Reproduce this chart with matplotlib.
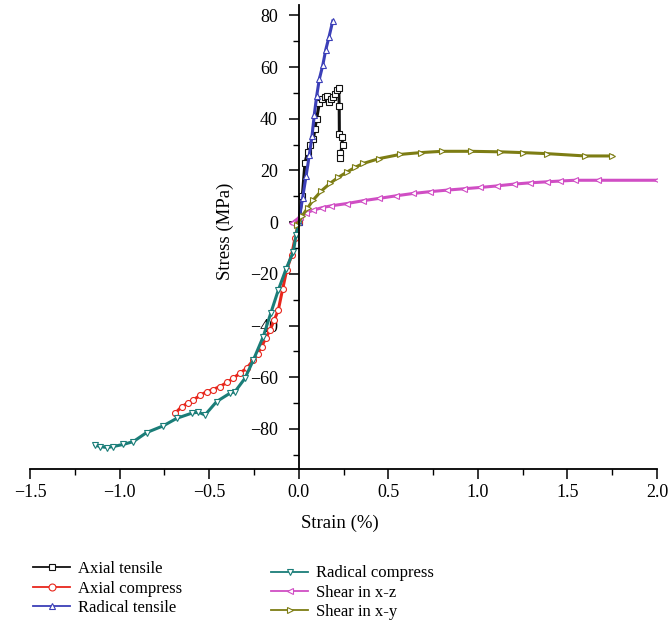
import matplotlib
matplotlib.use("Agg")
import matplotlib.pyplot as plt
from matplotlib.ticker import MultipleLocator, FuncFormatter

plt.rcParams['font.family'] = ['Liberation Serif', 'DejaVu Serif']

# ---- data (strain %, stress MPa) ----
axial_tensile_x = [0, 0.02, 0.035, 0.05, 0.065, 0.082, 0.09, 0.10, 0.115, 0.13, 0.145,
                   0.156, 0.17, 0.182, 0.193, 0.205, 0.212, 0.223, 0.226, 0.227, 0.24, 0.245, 0.232, 0.23]
axial_tensile_y = [0, 10, 23, 27, 30, 32, 36, 40, 46, 47.8, 48.5,
                   48.7, 46.4, 47.5, 48.4, 49.5, 51, 52, 45, 34, 33, 30, 26.6, 25]

axial_compress_x = [0, -0.02, -0.04, -0.067, -0.09, -0.114, -0.137, -0.16, -0.185, -0.207, -0.23,
                    -0.253, -0.29, -0.33, -0.365, -0.40, -0.44, -0.48, -0.514, -0.55, -0.589, -0.62,
                    -0.653, -0.69]
axial_compress_y = [0, -6, -12.8, -18.5, -26, -34, -38, -41.7, -45, -48.2, -51,
                    -53.3, -56.5, -58.5, -60.4, -62, -63.6, -64.8, -65.6, -67, -68.8, -70,
                    -71.4, -73.9]

radical_tensile_x = [0, 0.022, 0.041, 0.059, 0.074, 0.087, 0.10, 0.115, 0.134, 0.151, 0.169, 0.19]
radical_tensile_y = [0, 9.5, 17.8, 25.9, 33.2, 41.6, 48.7, 55.3, 60.6, 66.7, 71.6, 77.8]

radical_compress_x = [0, -0.015, -0.03, -0.07, -0.114, -0.155, -0.198, -0.253, -0.30, -0.356, -0.384,
                      -0.458, -0.523, -0.56, -0.597, -0.681, -0.756, -0.849, -0.923, -0.98, -1.035,
                      -1.07, -1.11, -1.137]
radical_compress_y = [0, -5, -11.5, -18, -26.3, -35, -44.3, -53.3, -60.4, -65.6, -66.2,
                      -69.4, -74.6, -73.5, -73.9, -75.9, -78.8, -81.4, -84.9, -86, -86.8,
                      -87.2, -86.8, -86.2]

shear_xz_x = [-0.04, 0.007, 0.04, 0.08, 0.13, 0.18, 0.27, 0.36, 0.45, 0.545, 0.64, 0.735, 0.83,
              0.92, 1.01, 1.105, 1.2, 1.29, 1.385, 1.46, 1.54, 1.67, 2.0]
shear_xz_y = [-0.5, 2, 3.5, 4.6, 5.6, 6.3, 7.2, 8.3, 9.2, 10.2, 11.1, 11.8, 12.4,
              12.9, 13.4, 14.0, 14.7, 15.2, 15.6, 15.9, 16.2, 16.2, 16.2]

shear_xy_x = [-0.01, 0.02, 0.05, 0.08, 0.125, 0.175, 0.22, 0.27, 0.315, 0.36, 0.45, 0.566, 0.68,
              0.80, 0.96, 1.124, 1.25, 1.385, 1.6, 1.75]
shear_xy_y = [-1.2, 2.5, 5.5, 8.5, 12, 15, 17.3, 19.4, 21.2, 22.7, 24.6, 26.2, 26.9,
              27.4, 27.4, 27.2, 26.9, 26.5, 25.6, 25.6]

series = [
    ("Axial tensile", axial_tensile_x, axial_tensile_y, "#111111", "s"),
    ("Axial compress", axial_compress_x, axial_compress_y, "#e8261c", "o"),
    ("Radical tensile", radical_tensile_x, radical_tensile_y, "#3b3fb8", "^"),
    ("Radical compress", radical_compress_x, radical_compress_y, "#1a7d78", "v"),
    ("Shear in x-z", shear_xz_x, shear_xz_y, "#d04ec4", "<"),
    ("Shear in x-y", shear_xy_x, shear_xy_y, "#7d7d14", ">"),
]

fig = plt.figure(figsize=(6.70, 6.27), dpi=100)
ax = fig.add_axes([30 / 670, 1 - 469 / 627, 627 / 670, 464 / 627])

handles = []
for name, xs, ys, col, mk in series:
    h, = ax.plot(xs, ys, color=col, lw=2.2, marker=mk, ms=4.3, mfc="white",
                 mec=col, mew=0.8, label=name)
    handles.append(h)

ax.set_xlim(-1.5, 2.0)
ax.set_ylim(-95.5, 84)

ax.spines['left'].set_position(('data', 0))
ax.spines['bottom'].set_position(('data', -95.5))
ax.spines['top'].set_visible(False)
ax.spines['right'].set_visible(False)
ax.spines['left'].set_linewidth(1.3)
ax.spines['bottom'].set_linewidth(1.3)

ax.xaxis.set_major_locator(MultipleLocator(0.5))
ax.xaxis.set_minor_locator(MultipleLocator(0.25))
ax.xaxis.set_major_formatter(FuncFormatter(lambda v, p: ("%.1f" % v).replace("-", "\u2212")))
ax.yaxis.set_major_locator(MultipleLocator(20))
ax.yaxis.set_minor_locator(MultipleLocator(10))
ax.tick_params(which='major', length=7, width=1.1, labelsize=13, direction='out')
ax.tick_params(which='minor', length=4, width=1.0, direction='out')
ax.tick_params(axis='y', pad=8)

ax.text(-0.41, -3.5, "Stress (MPa)", rotation=90, ha='center', va='center', fontsize=13.5)
fig.text(340 / 670, 1 - 523 / 627, "Strain (%)", ha='center', va='center', fontsize=13.5)

leg1 = fig.legend(handles[:3], [s[0] for s in series[:3]], loc='upper left',
                  bbox_to_anchor=(25 / 670, 1 - 553 / 627), frameon=False, fontsize=12,
                  handlelength=2.2, handletextpad=0.5, labelspacing=0.2, borderpad=0)
leg2 = fig.legend(handles[3:], [s[0] for s in series[3:]], loc='upper left',
                  bbox_to_anchor=(263 / 670, 1 - 557 / 627), frameon=False, fontsize=12,
                  handlelength=2.2, handletextpad=0.5, labelspacing=0.2, borderpad=0)
for lg in (leg1, leg2):
    for ln in lg.get_lines():
        ln.set_linewidth(1.3)
        ln.set_markersize(5)

fig.savefig("out.png", dpi=100)
